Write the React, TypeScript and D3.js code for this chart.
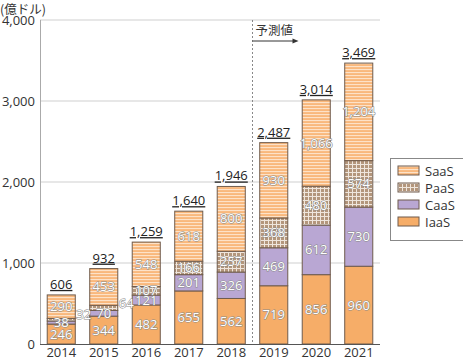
import * as d3 from "d3";

const years = ["2014", "2015", "2016", "2017", "2018", "2019", "2020", "2021"];
const iaas = [246, 344, 482, 655, 562, 719, 856, 960];
const caas = [38, 70, 121, 201, 326, 469, 612, 730];
const paas = [32, 64, 107, 166, 257, 368, 480, 574];
const saas = [290, 453, 548, 618, 800, 930, 1066, 1204];
const totals = [606, 932, 1259, 1640, 1946, 2487, 3014, 3469];
const yTicks = [0, 1000, 2000, 3000, 4000];
const seriesNames = ["IaaS", "CaaS", "PaaS", "SaaS"];
// labels that sit beside the bar instead of inside it
const outsideLabels = ["2014-PaaS", "2015-PaaS"];

const FONT = "'Open Sans', 'Noto Sans CJK JP', sans-serif";
const fills: Record<string, string> = {
  IaaS: "#f6ad68",
  CaaS: "#b9a7d3",
  PaaS: "url(#pat-paas)",
  SaaS: "url(#pat-saas)",
};

const App = () => {
  const width = 463,
    height = 360;
  const left = 40,
    right = 380,
    top = 20,
    bottom = 344;

  const x = d3.scaleBand().domain(years).range([left, right]).paddingInner(0.34).paddingOuter(0.17);
  const y = d3.scaleLinear().domain([0, 4000]).range([bottom, top]);

  const rows = years.map((yr, i) => ({ year: yr, IaaS: iaas[i], CaaS: caas[i], PaaS: paas[i], SaaS: saas[i] }));
  const stacked = d3.stack<any>().keys(seriesNames)(rows);
  const fmt = d3.format(",");
  const divider = ((x("2018") as number) + x.bandwidth() + (x("2019") as number)) / 2;

  return (
    <svg width={width} height={height} style={{ position: "absolute", left: 0, top: 0, fontFamily: FONT }}>
      <defs>
        <pattern id="pat-saas" width={4} height={3} patternUnits="userSpaceOnUse">
          <rect width={4} height={3} fill="#f9b87c" />
          <rect y={0} width={4} height={1.1} fill="#fde2c8" />
        </pattern>
        <pattern id="pat-paas" width={4} height={4} patternUnits="userSpaceOnUse">
          <rect width={4} height={4} fill="#b3967c" />
          <rect x={0} y={0} width={4} height={1} fill="#efe6dd" />
          <rect x={0} y={0} width={1} height={4} fill="#efe6dd" />
        </pattern>
      </defs>

      {/* unit label */}
      <text x={0} y={14} fontSize={12.5} fill="#333" fontFamily="'Noto Sans CJK JP', sans-serif">(億ドル)</text>

      {/* grid and y ticks */}
      {yTicks.map((t) => (
        <g key={t}>
          {t > 0 && <line x1={left} x2={right} y1={y(t)} y2={y(t)} stroke="#cfcfcf" />}
          <text x={35} y={y(t) + 4.5} textAnchor="end" fontSize={13} fill="#333">
            {fmt(t)}
          </text>
        </g>
      ))}
      <line x1={left + 0.5} x2={left + 0.5} y1={top} y2={bottom} stroke="#aaa" />

      {/* bars */}
      {stacked.map((s) => (
        <g key={s.key}>
          {s.map((d, i) => (
            <rect
              key={i}
              x={x(years[i]) as number}
              y={y(d[1])}
              width={x.bandwidth()}
              height={y(d[0]) - y(d[1])}
              fill={fills[s.key]}
              stroke="#6f5b4c"
              strokeWidth={1}
            />
          ))}
        </g>
      ))}

      {/* segment labels */}
      {stacked.map((s) =>
        s.map((d, i) => {
          const v = d[1] - d[0];
          const outside = outsideLabels.includes(`${years[i]}-${s.key}`);
          const cx = outside ? (x(years[i]) as number) + x.bandwidth() + 1 : (x(years[i]) as number) + x.bandwidth() / 2;
          const cy = outside ? y(d[0]) - 2 : y((d[0] + d[1]) / 2) + 4.5;
          return (
            <text
              key={`${s.key}-${i}`}
              x={cx}
              y={cy}
              textAnchor={outside ? "start" : "middle"}
              fontSize={13}
              fill="#ffffff"
              stroke="#8a8a8a"
              strokeWidth={1.1}
              style={{ paintOrder: "stroke" }}
            >
              {fmt(v)}
            </text>
          );
        })
      )}

      {/* totals */}
      {totals.map((t, i) => (
        <text
          key={i}
          x={(x(years[i]) as number) + x.bandwidth() / 2}
          y={y(stacked[3][i][1]) - 6}
          textAnchor="middle"
          fontSize={13}
          fill="#222"
          textDecoration="underline"
        >
          {fmt(t)}
        </text>
      ))}

      {/* bottom axis */}
      <line x1={left} x2={right} y1={bottom + 0.5} y2={bottom + 0.5} stroke="#555" />
      {years.map((yr) => (
        <text key={yr} x={(x(yr) as number) + x.bandwidth() / 2} y={357} textAnchor="middle" fontSize={13} fill="#333">
          {yr}
        </text>
      ))}

      {/* forecast divider */}
      <line x1={divider} x2={divider} y1={top} y2={bottom} stroke="#888" strokeDasharray="2,2" />
      <text x={divider + 3} y={35} fontSize={12.5} fill="#333" fontFamily="'Noto Sans CJK JP', sans-serif">予測値</text>
      <line x1={divider} x2={divider + 42} y1={41} y2={41} stroke="#333" />
      <path d={`M${divider + 46},41 L${divider + 40},38.5 L${divider + 40},43.5 Z`} fill="#333" />

      {/* legend */}
      <rect x={390.5} y={158.5} width={80} height={82} fill="#fff" stroke="#888" />
      {[...seriesNames].reverse().map((n, i) => (
        <g key={n} transform={`translate(398, ${166 + i * 17})`}>
          <rect width={21} height={9} fill={fills[n]} stroke="#6f5b4c" />
          <text x={27} y={9.5} fontSize={13} fill="#333">
            {n}
          </text>
        </g>
      ))}
    </svg>
  );
};

export default App;
